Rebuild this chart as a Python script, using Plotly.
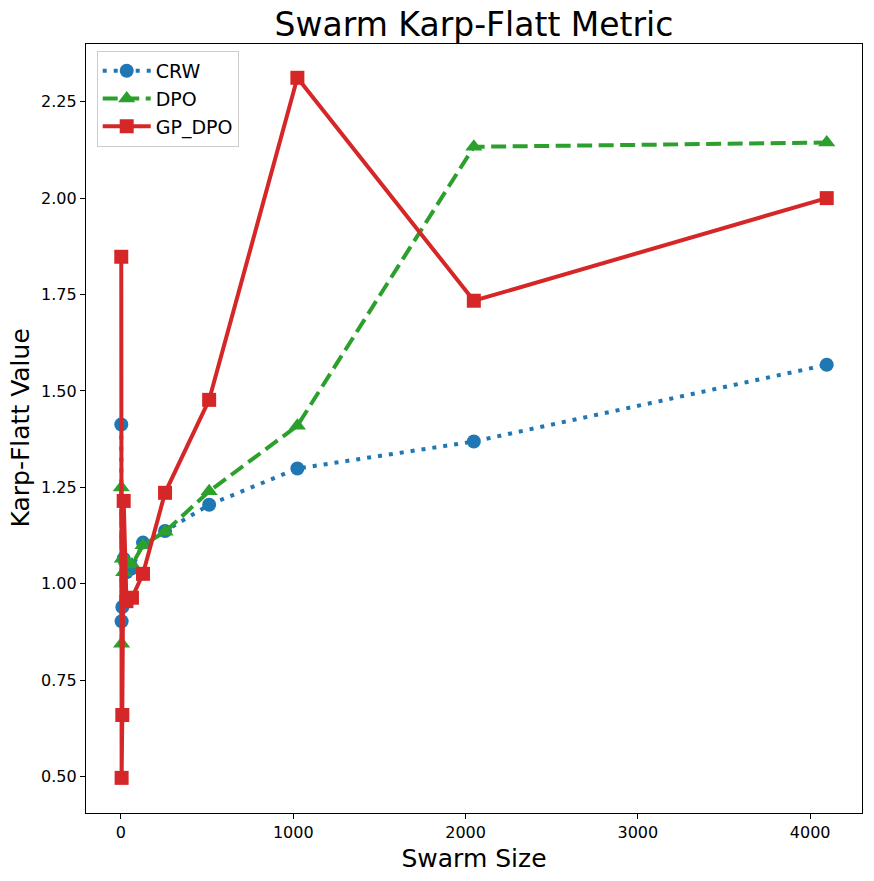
import plotly.graph_objects as go

swarm_sizes = [2, 4, 8, 16, 32, 64, 128, 256, 512, 1024, 2048, 4096]
crw = [1.413, 0.903, 0.940, 1.065, 1.030, 1.040, 1.107, 1.137, 1.205, 1.299, 1.369, 1.568]
dpo = [1.250, 0.845, 1.065, 1.030, 1.060, 1.050, 1.100, 1.135, 1.240, 1.410, 2.133, 2.144]
gp_dpo = [1.848, 0.497, 0.660, 1.215, 0.955, 0.964, 1.026, 1.236, 1.477, 2.312, 1.734, 2.000]

x_ticks = [0, 1000, 2000, 3000, 4000]
y_ticks = [0.50, 0.75, 1.00, 1.25, 1.50, 1.75, 2.00, 2.25]

BLUE = "#1f77b4"
GREEN = "#2ca02c"
RED = "#d62728"
FONT = "DejaVu Sans"

fig = go.Figure()
fig.add_trace(go.Scatter(
    x=swarm_sizes, y=crw, name="CRW", mode="lines+markers",
    line=dict(color=BLUE, width=4, dash="4px,7px"),
    marker=dict(symbol="circle", size=14, color=BLUE),
))
fig.add_trace(go.Scatter(
    x=swarm_sizes, y=dpo, name="DPO", mode="lines+markers",
    line=dict(color=GREEN, width=4, dash="15px,6.5px"),
    marker=dict(symbol="triangle-up", size=15, color=GREEN),
))
fig.add_trace(go.Scatter(
    x=swarm_sizes, y=gp_dpo, name="GP_DPO", mode="lines+markers",
    line=dict(color=RED, width=4),
    marker=dict(symbol="square", size=14, color=RED),
))

axis_common = dict(
    showline=True, linecolor="black", linewidth=1.2, mirror=True,
    ticks="outside", ticklen=5, tickwidth=1.2, tickcolor="black",
    showgrid=False, zeroline=False,
    tickfont=dict(family=FONT, size=16, color="black"),
)

fig.update_layout(
    width=874, height=881,
    margin=dict(l=86, r=12, t=44, b=68),
    paper_bgcolor="white", plot_bgcolor="white",
    font=dict(family=FONT, color="black"),
    title=dict(text="Swarm Karp-Flatt Metric", x=0.5, xref="paper",
               y=1 - 24 / 881, yref="container", yanchor="middle", xanchor="center",
               font=dict(family=FONT, size=33, color="black")),
    xaxis=dict(range=[-202.7, 4300.7], tickvals=x_ticks,
               title=dict(text="Swarm Size", font=dict(family=FONT, size=25), standoff=8),
               **axis_common),
    yaxis=dict(range=[0.4059, 2.3996], tickvals=y_ticks, tickformat=".2f",
               **axis_common),
    legend=dict(x=0.0138, y=0.991, xanchor="left", yanchor="top",
                bgcolor="white", bordercolor="#cccccc", borderwidth=1,
                font=dict(family=FONT, size=19, color="black"),
                itemwidth=48, tracegroupgap=0),
    showlegend=True,
    annotations=[dict(text="Karp-Flatt Value", textangle=-90, showarrow=False,
                      xref="paper", yref="paper", x=(20 - 86) / 776, y=0.5,
                      xanchor="center", yanchor="middle",
                      font=dict(family=FONT, size=25, color="black"))],
)

fig.write_html("out.html")
